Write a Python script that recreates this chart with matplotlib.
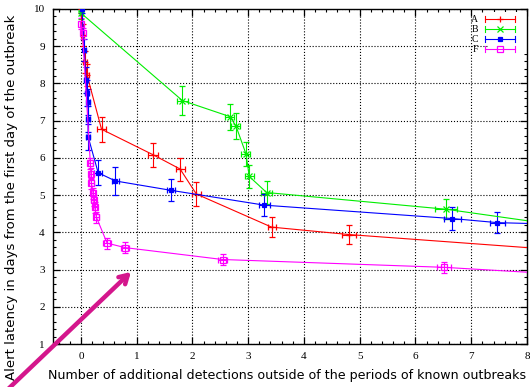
import numpy as np
import matplotlib.pyplot as plt
from matplotlib.lines import Line2D

# ---- data ----
a_x = [0.0, 0.03, 0.07, 0.11, 0.37, 1.30, 1.78, 2.07, 3.42, 4.81, 9.0]
a_y = [10.0, 9.3, 8.58, 8.23, 6.77, 6.08, 5.70, 5.03, 4.14, 3.94, 3.48]
a_xerr = [0.02, 0.03, 0.04, 0.04, 0.075, 0.09, 0.08, 0.08, 0.07, 0.125, 0.1]
a_yerr = [0.1, 0.3, 0.3, 0.3, 0.34, 0.32, 0.31, 0.32, 0.26, 0.26, 0.3]

b_x = [0.0, 0.01, 1.82, 2.67, 2.78, 2.96, 3.02, 3.33, 6.55, 9.0]
b_y = [10.0, 9.88, 7.54, 7.11, 6.86, 6.11, 5.50, 5.07, 4.62, 4.10]
b_xerr = [0.02, 0.03, 0.1, 0.08, 0.08, 0.08, 0.08, 0.1, 0.2, 0.2]
b_yerr = [0.1, 0.15, 0.38, 0.35, 0.34, 0.32, 0.30, 0.3, 0.27, 0.3]

c_x = [0.02, 0.06, 0.09, 0.11, 0.13, 0.13, 0.13, 0.31, 0.62, 1.61, 3.29, 6.66, 7.47, 9.0]
c_y = [10.0, 8.9, 8.1, 7.74, 7.51, 7.05, 6.57, 5.60, 5.38, 5.13, 4.73, 4.37, 4.26, 4.20]
c_xerr = [0.02, 0.03, 0.03, 0.03, 0.03, 0.03, 0.03, 0.07, 0.07, 0.07, 0.1, 0.15, 0.13, 0.1]
c_yerr = [0.1, 0.3, 0.35, 0.35, 0.35, 0.35, 0.35, 0.34, 0.37, 0.3, 0.3, 0.3, 0.29, 0.3]

f_x = [0.0, 0.03, 0.17, 0.18, 0.19, 0.22, 0.23, 0.25, 0.28, 0.47, 0.79, 2.54, 6.51, 9.0]
f_y = [9.6, 9.35, 5.85, 5.57, 5.32, 5.05, 4.86, 4.67, 4.40, 3.71, 3.59, 3.27, 3.06, 2.84]
f_xerr = [0.02, 0.03, 0.04, 0.04, 0.04, 0.04, 0.04, 0.04, 0.05, 0.07, 0.07, 0.08, 0.125, 0.1]
f_yerr = [0.15, 0.15, 0.15, 0.15, 0.15, 0.15, 0.15, 0.15, 0.15, 0.15, 0.15, 0.15, 0.15, 0.15]

labels = ['A', 'B', 'C', 'F']
colors = ['#ff0000', '#00ee00', '#0000ff', '#ff00ff']
markers = ['+', 'x', 's', 's']
msizes = [4.5, 4.5, 3.5, 4.5]
filled = [True, True, True, False]

series = [(a_x, a_y, a_xerr, a_yerr), (b_x, b_y, b_xerr, b_yerr),
          (c_x, c_y, c_xerr, c_yerr), (f_x, f_y, f_xerr, f_yerr)]

# ---- figure ----
fig = plt.figure(figsize=(5.3, 3.87), dpi=100)
ax = fig.add_axes([53 / 530, 1 - 344 / 387, 474 / 530, 335 / 387])

for (x, y, xe, ye), lab, col, mk, ms, fl in zip(series, labels, colors, markers, msizes, filled):
    ax.errorbar(x, y, xerr=xe, yerr=ye, color=col, lw=0.8, elinewidth=0.8,
                capsize=2.5, capthick=0.8, marker=mk, ms=ms,
                mfc=col if fl else 'none', mec=col, mew=0.9, zorder=3)

ax.set_xlim(-0.5, 8)
ax.set_ylim(1, 10)
ax.set_xticks(range(0, 9))
ax.set_yticks(range(1, 11))
ax.set_xticks(np.arange(-0.4, 8.01, 0.2), minor=True)
ax.set_yticks(np.arange(1, 10.01, 0.2), minor=True)
ax.tick_params(which='both', direction='in', top=True, right=True)
ax.tick_params(which='major', length=5, width=0.9, labelsize=8, pad=6)
ax.tick_params(which='minor', length=2.5, width=0.8)
for lbl in ax.get_xticklabels() + ax.get_yticklabels():
    lbl.set_family('Liberation Serif')
ax.grid(True, which='major', ls=':', color='black', lw=0.8)
for s in ax.spines.values():
    s.set_linewidth(1.0)

# legend drawn gnuplot style: label, line with end caps, marker in middle
ax.add_patch(plt.Rectangle((0.92, 0.865), 0.08, 0.125, transform=ax.transAxes,
                           facecolor='white', edgecolor='none', zorder=2.5))
for i, (lab, col, mk, ms, fl) in enumerate(zip(labels, colors, markers, msizes, filled)):
    yy = 1 - (19 + 10 * i - 9) / 335
    x0, x1 = (485 - 53) / 474, (515 - 53) / 474
    ax.text((478 - 53) / 474, yy, lab, transform=ax.transAxes, ha='right',
            va='center', fontsize=7, family='Liberation Serif', zorder=4)
    ax.add_line(Line2D([x0, x1], [yy, yy], color=col, lw=0.8,
                       transform=ax.transAxes, zorder=4))
    for xc in (x0, x1):
        ax.add_line(Line2D([xc, xc], [yy - 0.009, yy + 0.009], color=col, lw=0.8,
                           transform=ax.transAxes, zorder=4))
    ax.add_line(Line2D([(x0 + x1) / 2], [yy], marker=mk, ms=ms, color=col,
                       mfc=col if fl else 'none', mec=col, mew=0.9,
                       transform=ax.transAxes, zorder=4))

fig.text(287 / 530, 1 - 376 / 387,
         'Number of additional detections outside of the periods of known outbreaks',
         ha='center', va='center', fontsize=9.1, family='DejaVu Sans')
fig.text(12 / 530, 1 - 197 / 387,
         'Alert latency in days from the first day of the outbreak',
         ha='center', va='center', rotation=90, fontsize=9.5, family='DejaVu Sans')

# pointer arrow
ax.annotate('', xy=(133, 387 - 270), xycoords='figure pixels',
            xytext=(5, 387 - 392), textcoords='figure pixels',
            arrowprops=dict(arrowstyle='->,head_length=0.6,head_width=0.35',
                            color='#d4168c', lw=3.2),
            annotation_clip=False)

fig.savefig('out.png', dpi=100)
